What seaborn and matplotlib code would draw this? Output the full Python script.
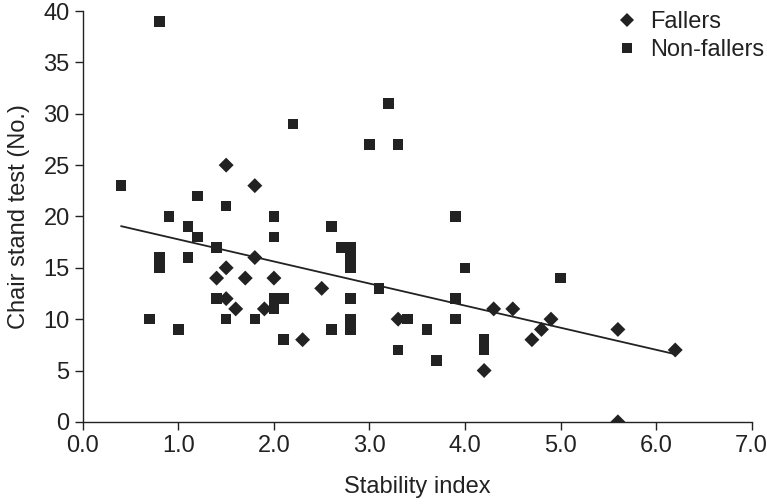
import numpy as np
import pandas as pd
import matplotlib
matplotlib.use("Agg")
import matplotlib.pyplot as plt
import seaborn as sns

# Fallers (diamonds)
fallers_x = [1.5, 1.8, 1.8, 1.5, 1.4, 1.7, 2.0, 2.5, 1.5, 1.6, 1.9, 2.3, 3.3, 4.3, 4.5,
             4.9, 4.8, 4.7, 4.2, 5.6, 6.2, 5.6]
fallers_y = [25, 23, 16, 15, 14, 14, 14, 13, 12, 11, 11, 8, 10, 11, 11,
             10, 9, 8, 5, 9, 7, 0]

# Non-fallers (squares)
nonfallers_x = [0.8, 0.4, 0.8, 0.8, 0.9, 0.7, 1.0, 1.1, 1.1, 1.2, 1.2, 2.2, 1.5, 2.0, 2.0,
                2.6, 1.4, 1.4, 2.0, 2.1, 2.0, 1.5, 1.8, 2.6, 2.1, 3.2, 3.0, 3.3, 3.9, 2.7,
                2.8, 2.8, 2.8, 4.0, 3.1, 2.8, 3.9, 3.4, 3.9, 2.8, 2.8, 3.6, 3.3, 3.7, 4.2,
                4.2, 5.0]
nonfallers_y = [39, 23, 16, 15, 20, 10, 9, 19, 16, 22, 18, 29, 21, 20, 18,
                19, 17, 12, 12, 12, 11, 10, 10, 9, 8, 31, 27, 27, 20, 17,
                17, 16, 15, 15, 13, 12, 12, 10, 10, 10, 9, 9, 7, 6, 8,
                7, 14]

x_ticks = [0.0, 1.0, 2.0, 3.0, 4.0, 5.0, 6.0, 7.0]
y_ticks = [0, 5, 10, 15, 20, 25, 30, 35, 40]

df = pd.DataFrame({
    "x": fallers_x + nonfallers_x,
    "y": fallers_y + nonfallers_y,
    "group": ["Fallers"] * len(fallers_x) + ["Non-fallers"] * len(nonfallers_x),
})

sns.set_style("ticks")
plt.rcParams["font.family"] = ["Liberation Sans", "DejaVu Sans"]

fig = plt.figure(figsize=(7.67, 5.04), dpi=100)
ax = fig.add_axes([0.108, 0.163, 0.872, 0.815])

c = "#222222"
fs = 17
sns.scatterplot(data=df, x="x", y="y", style="group",
                markers={"Fallers": "D", "Non-fallers": "s"},
                color=c, s=58, linewidth=0, ax=ax, zorder=3)
sns.regplot(data=df, x="x", y="y", scatter=False, ci=None, truncate=True,
            color=c, line_kws={"linewidth": 1.3}, ax=ax)

ax.set_xlim(0, 7.0)
ax.set_ylim(0, 40)
ax.set_xticks(x_ticks)
ax.set_xticklabels([f"{t:.1f}" for t in x_ticks])
ax.set_yticks(y_ticks)
ax.set_xlabel("Stability index", fontsize=fs, color=c, labelpad=14)
ax.set_ylabel("Chair stand test (No.)", fontsize=fs, color=c, labelpad=10)
ax.tick_params(axis="both", labelsize=fs, colors=c, length=6, width=1.0, direction="out")
for s in ["top", "right"]:
    ax.spines[s].set_visible(False)
for s in ["left", "bottom"]:
    ax.spines[s].set_color(c)
    ax.spines[s].set_linewidth(1.0)
ax.spines["left"].set_zorder(5)
ax.spines["bottom"].set_zorder(5)

leg = ax.legend(loc="upper right", bbox_to_anchor=(1.033, 1.023), borderaxespad=0,
                frameon=False, fontsize=fs, handlelength=1.0, handletextpad=0.5,
                labelspacing=0.25, markerscale=0.95)
for t in leg.get_texts():
    t.set_color(c)

fig.savefig("out.png", dpi=100)
